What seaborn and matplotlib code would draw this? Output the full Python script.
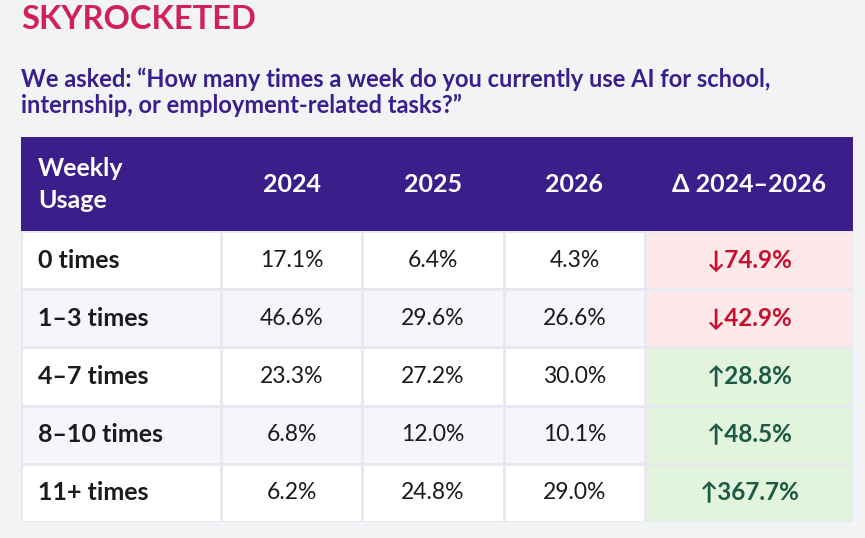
import matplotlib.pyplot as plt
import numpy as np
import pandas as pd
import seaborn as sns
from matplotlib.colors import ListedColormap

sns.set_theme(style='white')
plt.rcParams['font.family'] = ['Lato', 'DejaVu Sans']

usage = ['0 times', '1–3 times', '4–7 times', '8–10 times', '11+ times']
pct_2024 = [17.1, 46.6, 23.3, 6.8, 6.2]
pct_2025 = [6.4, 29.6, 27.2, 12.0, 24.8]
pct_2026 = [4.3, 26.6, 30.0, 10.1, 29.0]
change = [-74.9, -42.9, 28.8, 48.5, 367.7]
headers = ['Weekly\nUsage', '2024', '2025', '2026', 'Δ 2024–2026']

title = 'SKYROCKETED'
subtitle = ['We asked: \u201cHow many times a week do you currently use AI for school,',
            'internship, or employment-related tasks?\u201d']

# layout in pixels of the 865x538 picture
W, H = 865, 538
col_edges = [21, 221, 362, 504, 645, 853]
header_top, header_bottom, table_bottom = 137, 231, 522

bg = '#f2f3f5'
purple = '#3c1e8b'
# 0 white row, 1 lavender row, 2 pink (drop), 3 green (rise), 4 header
cmap = ListedColormap(['#ffffff', '#f6f5fb', '#fde9e9', '#e3f4dc', purple])
grid = '#e8e8f0'

fig = plt.figure(figsize=(W / 100, H / 100), dpi=100, facecolor=bg)


def fx(x):
    return x / W


def fy(y):
    return 1 - y / H


def px_axes(x0, y0, x1, y1):
    return fig.add_axes([fx(x0), fy(y1), fx(x1) - fx(x0), fy(y0) - fy(y1)])


fig.text(fx(21), fy(29), title, color='#d0215e', fontsize=23.5, fontweight='bold', va='baseline')
fig.text(fx(21), fy(87), subtitle[0], color='#3a1f8c', fontsize=17, fontweight='bold', va='baseline')
fig.text(fx(21), fy(113), subtitle[1], color='#3a1f8c', fontsize=17, fontweight='bold', va='baseline')

# header band
ax_h = px_axes(col_edges[0], header_top, col_edges[-1], header_bottom)
sns.heatmap(np.array([[4]]), cmap=cmap, vmin=-0.5, vmax=4.5, cbar=False,
            xticklabels=False, yticklabels=False, ax=ax_h)
ax_h.set_axis_off()

head_mid = (header_top + header_bottom) / 2
first, second = headers[0].split('\n')
fig.text(fx(38), fy(176), first, color='white', fontsize=18, fontweight='bold', va='baseline')
fig.text(fx(38), fy(208), second, color='white', fontsize=18, fontweight='bold', va='baseline')
for j, h in enumerate(headers[1:], start=1):
    cx = (col_edges[j] + col_edges[j + 1]) / 2
    fig.text(fx(cx), fy(head_mid), h, color='white', fontsize=18, fontweight='bold',
             ha='center', va='center')

# body, one heatmap per column so widths can differ
zebra = [i % 2 for i in range(len(usage))]
delta_codes = [2 if v < 0 else 3 for v in change]
body = pd.DataFrame({
    'usage': zebra, '2024': zebra, '2025': zebra, '2026': zebra, 'delta': delta_codes,
})

values = {
    'usage': usage,
    '2024': [f'{v:.1f}%' for v in pct_2024],
    '2025': [f'{v:.1f}%' for v in pct_2025],
    '2026': [f'{v:.1f}%' for v in pct_2026],
    'delta': [('↓' if v < 0 else '↑') + f'{abs(v):.1f}%' for v in change],
}

for j, col in enumerate(body.columns):
    ax = px_axes(col_edges[j], header_bottom, col_edges[j + 1], table_bottom)
    sns.heatmap(body[[col]].to_numpy(), cmap=cmap, vmin=-0.5, vmax=4.5, cbar=False,
                linewidths=0.8, linecolor=grid, xticklabels=False, yticklabels=False, ax=ax)
    ax.set_axis_off()
    width = col_edges[j + 1] - col_edges[j]
    for i, label in enumerate(values[col]):
        if col == 'usage':
            ax.text(17 / width, i + 0.5, label, fontsize=18, fontweight='bold',
                    color='#1b1b1f', ha='left', va='center')
        elif col == 'delta':
            c = '#c8102e' if change[i] < 0 else '#1d5a45'
            ax.text(0.5, i + 0.5, label, fontsize=17.5, fontweight='bold',
                    color=c, ha='center', va='center')
        else:
            ax.text(0.5, i + 0.5, label, fontsize=16.5, color='#1b1b1f',
                    ha='center', va='center')

fig.savefig('out.png', dpi=100, facecolor=bg)
